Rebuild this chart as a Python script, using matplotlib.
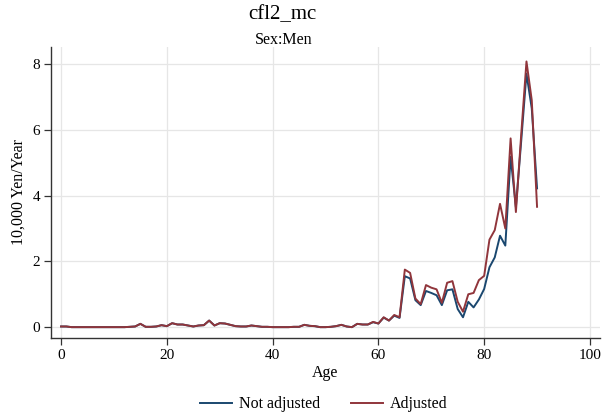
import matplotlib
matplotlib.use("Agg")
import matplotlib.pyplot as plt

plt.rcParams["font.family"] = ["Liberation Serif", "DejaVu Serif"]

ages = list(range(0, 91))

# 10,000 Yen/Year
not_adjusted = [
    0.02, 0.02, 0.00, 0.00, 0.00, 0.00, 0.00, 0.00, 0.00, 0.00,   # 0-9
    0.00, 0.00, 0.00, 0.01, 0.02, 0.10, 0.01, 0.01, 0.02, 0.06,   # 10-19
    0.03, 0.12, 0.08, 0.08, 0.05, 0.02, 0.05, 0.06, 0.20, 0.05,   # 20-29
    0.12, 0.11, 0.07, 0.03, 0.02, 0.02, 0.05, 0.03, 0.01, 0.01,   # 30-39
    0.00, 0.00, 0.00, 0.00, 0.01, 0.01, 0.07, 0.04, 0.03, 0.00,   # 40-49
    0.00, 0.01, 0.03, 0.07, 0.02, 0.00, 0.10, 0.08, 0.08, 0.15,   # 50-59
    0.11, 0.29, 0.20, 0.35, 0.28, 1.55, 1.48, 0.82, 0.67, 1.10,   # 60-69
    1.04, 0.97, 0.67, 1.12, 1.15, 0.55, 0.30, 0.77, 0.60, 0.84,   # 70-79
    1.16, 1.82, 2.12, 2.78, 2.48, 5.18, 3.65, 5.65, 7.71, 6.65,   # 80-89
    4.22,                                                         # 90
]
adjusted = [
    0.02, 0.02, 0.00, 0.00, 0.00, 0.00, 0.00, 0.00, 0.00, 0.00,
    0.00, 0.00, 0.00, 0.01, 0.02, 0.10, 0.01, 0.01, 0.02, 0.06,
    0.03, 0.12, 0.08, 0.08, 0.05, 0.02, 0.05, 0.06, 0.20, 0.05,
    0.12, 0.11, 0.07, 0.03, 0.02, 0.02, 0.05, 0.03, 0.01, 0.01,
    0.00, 0.00, 0.00, 0.00, 0.01, 0.01, 0.07, 0.04, 0.03, 0.00,
    0.00, 0.01, 0.03, 0.07, 0.02, 0.00, 0.10, 0.08, 0.08, 0.16,
    0.11, 0.30, 0.20, 0.37, 0.30, 1.75, 1.65, 0.87, 0.70, 1.28,
    1.20, 1.15, 0.74, 1.35, 1.40, 0.77, 0.47, 1.00, 1.04, 1.43,
    1.56, 2.66, 2.95, 3.75, 3.00, 5.74, 3.50, 5.85, 8.08, 6.90,
    3.66,
]

fig = plt.figure(figsize=(6.03, 4.18), dpi=100)
ax = fig.add_axes([0.0846, 0.1914, 0.9104, 0.6962])

ax.plot(ages, not_adjusted, color="#1a476f", lw=1.4, label="Not adjusted")
ax.plot(ages, adjusted, color="#90353b", lw=1.4, label="Adjusted")

ax.set_xlim(-1.9, 101.9)
ax.set_ylim(-0.33, 8.52)
ax.set_xticks([0, 20, 40, 60, 80, 100])
ax.set_yticks([0, 2, 4, 6, 8])
ax.grid(True, color="#e6e6e6", lw=0.9)
ax.set_axisbelow(True)
for s in ["top", "right"]:
    ax.spines[s].set_visible(False)
for s in ["left", "bottom"]:
    ax.spines[s].set_color("#333333")
    ax.spines[s].set_linewidth(1.0)
ax.tick_params(direction="out", length=5, width=0.9, color="#333333",
               labelsize=11, pad=3)

ax.set_xlabel("Age", fontsize=11.5, labelpad=2)
ax.set_ylabel("10,000 Yen/Year", fontsize=11.5, labelpad=4)

fig.text(0.469, 0.965, "cfl2_mc", ha="center", va="center", fontsize=15)
fig.text(0.471, 0.905, "Sex:Men", ha="center", va="center", fontsize=11.5)

fig.legend(loc="center", bbox_to_anchor=(0.537, 0.033), ncol=2, frameon=False,
           fontsize=11.5, handlelength=2.0, columnspacing=1.9, handletextpad=0.45)

fig.savefig("out.png", dpi=100)
